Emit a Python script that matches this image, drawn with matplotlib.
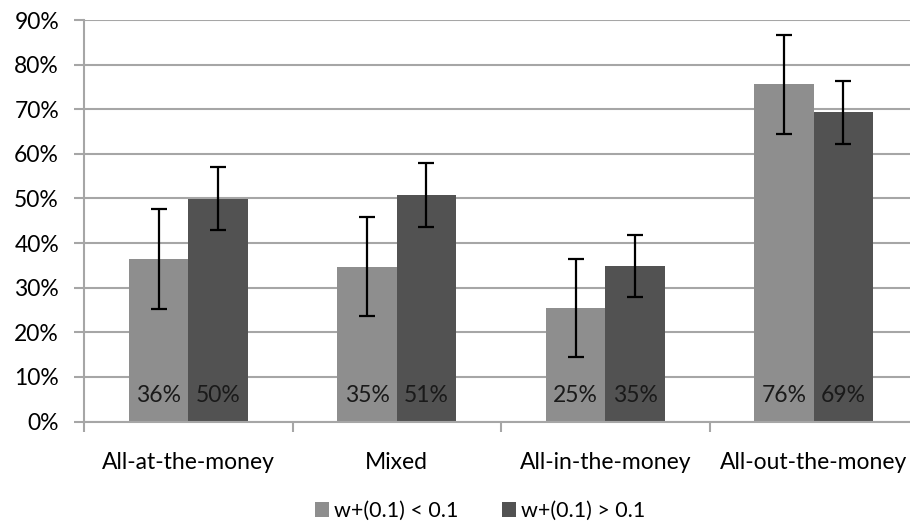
#!/usr/bin/env python3
# Grouped bar chart with error bars, Excel look.

import matplotlib
matplotlib.use("Agg")
from matplotlib import pyplot as plt
from matplotlib.ticker import FuncFormatter, MultipleLocator
import numpy as np

plt.rcParams["font.family"] = ["Lato", "DejaVu Sans"]

CATEGORIES = ["All-at-the-money", "Mixed", "All-in-the-money", "All-out-the-money"]
SERIES = ["w+(0.1) < 0.1", "w+(0.1) > 0.1"]
LOW_W = [0.364, 0.347, 0.254, 0.756]
HIGH_W = [0.500, 0.508, 0.349, 0.693]
LOW_ERR = [0.112, 0.111, 0.110, 0.111]
HIGH_ERR = [0.070, 0.071, 0.070, 0.070]

COLORS = ["#8e8e8e", "#525252"]
GRID = "#a6a6a6"
FS = 16.5


def main():
    fig = plt.figure(figsize=(9.10, 5.29), dpi=100)
    ax = fig.add_axes([84 / 910, 107.5 / 529, 834 / 910, 401.4 / 529])

    x = np.arange(len(CATEGORIES))
    width = 0.285
    for i, (vals, errs) in enumerate([(LOW_W, LOW_ERR), (HIGH_W, HIGH_ERR)]):
        pos = x + (i - 0.5) * width
        ax.bar(pos, vals, width, color=COLORS[i], label=SERIES[i], zorder=2)
        ax.errorbar(pos, vals, yerr=errs, fmt="none", ecolor="black",
                    elinewidth=1.6, capsize=5.8, capthick=1.6, zorder=3)
        for px, v in zip(pos, vals):
            ax.text(px, 0.059, f"{round(v * 100):.0f}%", ha="center",
                    va="center", fontsize=FS, color="#1a1a1a", zorder=4)

    ax.set_xlim(-0.5, len(CATEGORIES) - 0.5)
    ax.set_ylim(0, 0.9)
    ax.yaxis.set_major_locator(MultipleLocator(0.1))
    ax.yaxis.set_major_formatter(FuncFormatter(lambda v, _: f"{v * 100:.0f}%"))
    ax.set_xticks(np.arange(len(CATEGORIES) + 1) - 0.5)
    ax.set_xticklabels([])
    ax.set_xticks(x, minor=True)
    ax.set_xticklabels(CATEGORIES, minor=True, fontsize=FS)
    ax.tick_params(axis="x", which="minor", length=0, pad=22)
    ax.tick_params(axis="x", which="major", length=7, width=1.5, color=GRID)
    ax.tick_params(axis="y", length=7, width=1.5, color=GRID, labelsize=FS,
                   pad=11)

    ax.grid(axis="y", color=GRID, linewidth=1.5, zorder=0)
    ax.set_axisbelow(True)
    for side in ["top", "right"]:
        ax.spines[side].set_visible(False)
    for side in ["left", "bottom"]:
        ax.spines[side].set_color(GRID)
        ax.spines[side].set_linewidth(1.5)

    fig.legend(loc="center", bbox_to_anchor=(480 / 910, 1 - 511 / 529),
               ncol=2, frameon=False, fontsize=15.5, handlelength=0.65,
               handleheight=0.65, handletextpad=0.25, columnspacing=2.0)

    fig.savefig("out.png", dpi=100)
    plt.close(fig)


if __name__ == "__main__":
    main()
